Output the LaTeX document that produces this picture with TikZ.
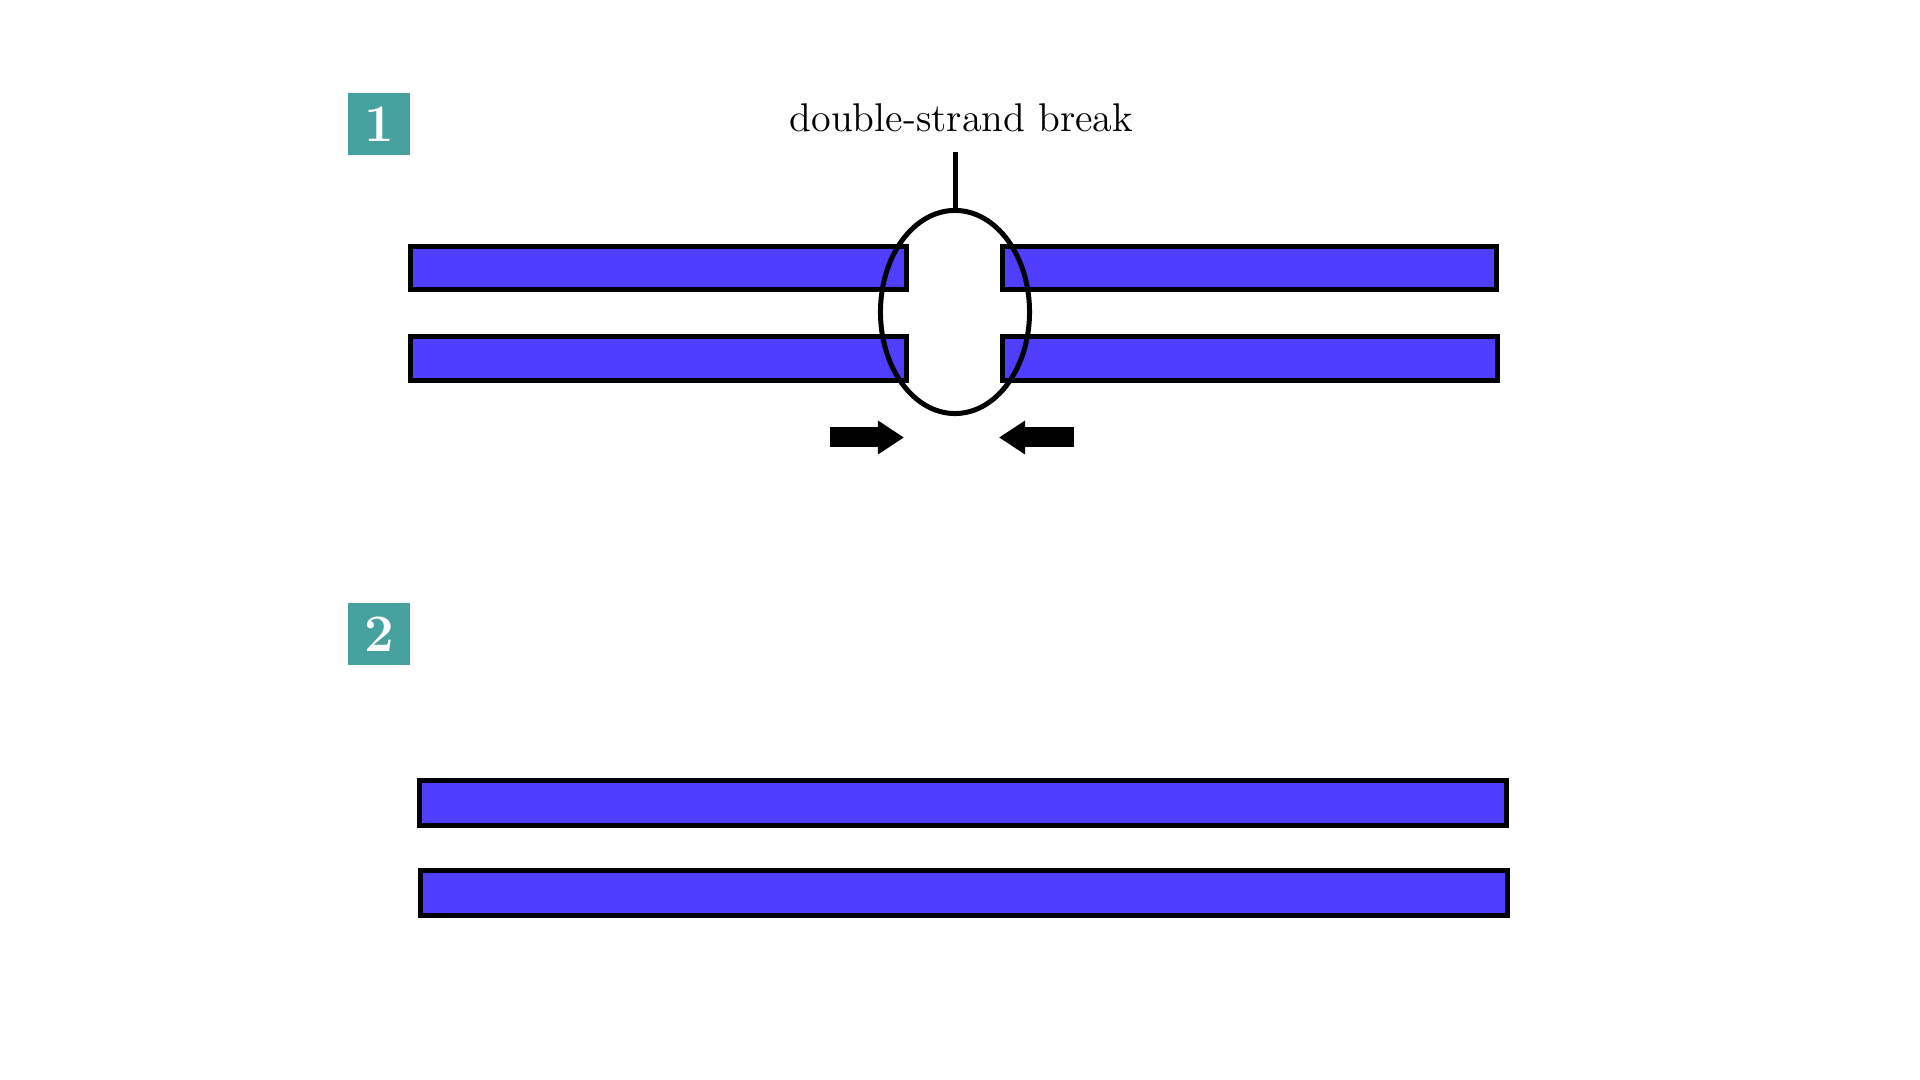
\documentclass[tikz,border=0pt]{standalone}
\usepackage{tikz}
\usetikzlibrary{arrows.meta, positioning, shapes.geometric}
\definecolor{dnablue}{HTML}{4F3EFF}
\definecolor{stepteal}{HTML}{45A29E}
\tikzset{
  strand/.style={draw=black, fill=dnablue, line width=0.05cm},
  badge/.style={fill=stepteal, text=white, minimum size=0.62cm, inner sep=0pt,
                font=\fontsize{15}{15}\selectfont\bfseries},
  ring/.style={ellipse, draw=black, line width=0.05cm, minimum width=1.49cm,
               minimum height=2.03cm, inner sep=0pt},
  push/.style={line width=0.2cm, -{Triangle[length=0.26cm, width=0.32cm]}},
}

\begin{document}
\begin{tikzpicture}[x=0.01cm, y=-0.01cm]
  \useasboundingbox (0,0) rectangle (1920,1080);

  %% Step 1: broken double strand
  \node[badge] (one) at (379,124) {1};
  % left pieces
  \draw[strand] (410.5,246.5) rectangle (906.5,289.5);
  \draw[strand] (410.5,336.5) rectangle (906.5,380.5);
  % right pieces
  \draw[strand] (1002.5,246.5) rectangle (1496.5,289.5);
  \draw[strand] (1002.5,336.5) rectangle (1497,380.5);
  % break marker
  \node[ring] (brk) at (955,312) {};
  \node[anchor=base, font=\fontsize{11.4}{13}\selectfont] (lbl) at (961.5,132) {double-strand break};
  \coordinate (tick) at (955,152);
  \draw[line width=0.05cm] (brk.north) -- (tick);
  % ends pushed together
  \coordinate (pl) at (830,437.5);
  \coordinate (pr) at (1074,437.5);
  \draw[push] (pl) -- (904,437.5);
  \draw[push] (pr) -- (999,437.5);

  %% Step 2: joined double strand
  \node[badge] (two) at (379,634) {2};
  \draw[strand] (419.5,780.5) rectangle (1506.5,825.5);
  \draw[strand] (420,870.5) rectangle (1507,915.5);

\end{tikzpicture}
\end{document}
